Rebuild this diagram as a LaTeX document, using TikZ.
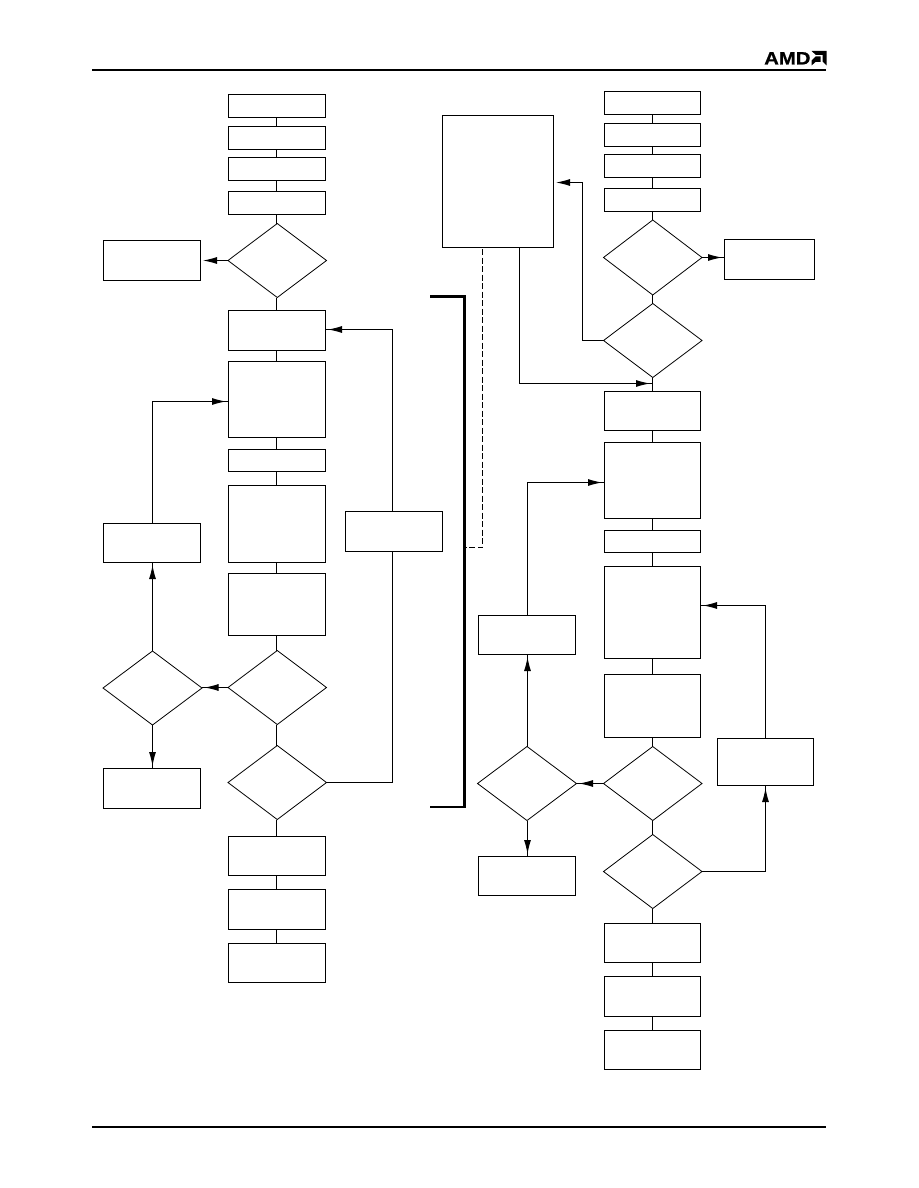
\documentclass[tikz,border=0pt]{standalone}
\usepackage{fontspec}
\setmainfont{Liberation Sans}
\usetikzlibrary{shapes.geometric,arrows.meta}
\tikzset{
  x=1pt,y=-1pt,
  flow/.style={draw=black,line width=1pt,fill=white,inner sep=0pt,outer sep=0pt,rectangle},
  deci/.style={draw=black,line width=0.8pt,fill=white,inner sep=0pt,outer sep=0pt,diamond,shape aspect=1},
  link/.style={draw=black,line width=1pt},
  headtip/.style={-{Latex[length=14pt,width=7pt]}},
  arr/.style={link,preaction={draw=black,-,shorten >=0pt},headtip,shorten >=2.5pt},
  arrgap/.style={link,headtip,shorten >=2.5pt},
  rulebar/.style={draw=black,line width=1.6pt},
  brace/.style={draw=black,line width=2.6pt,miter limit=10},
  dashlink/.style={draw=black,line width=1pt,dash pattern=on 6pt off 2.5pt}
}
% name, x1, y1, x2, y2 (pixel indices of the edge lines)
\newcommand{\bx}[5]{%
  \pgfmathsetmacro{\cxv}{(#2+#4)/2+.5}\pgfmathsetmacro{\cyv}{(#3+#5)/2+.5}%
  \pgfmathsetmacro{\wv}{#4-#2}\pgfmathsetmacro{\hv}{#5-#3}%
  \node[flow,minimum width=\wv pt,minimum height=\hv pt] (#1) at (\cxv,\cyv) {};}
\newcommand{\dm}[5]{%
  \pgfmathsetmacro{\cxv}{(#2+#4)/2}\pgfmathsetmacro{\cyv}{(#3+#5)/2}%
  \pgfmathsetmacro{\wv}{#4-#2}\pgfmathsetmacro{\hv}{#5-#3}%
  \node[deci,minimum width=\wv pt,minimum height=\hv pt] (#1) at (\cxv,\cyv) {};}
% vertical link between two nodes on a given axis
\newcommand{\vl}[3]{\draw[link] (#1.south -| #3) -- (#2.north -| #3);}
\begin{document}
\begin{tikzpicture}
\useasboundingbox (0,0) rectangle (918,1188);
\fill[white] (0,0) rectangle (918,1188);
% header / footer
\coordinate (hl) at (92,70); \coordinate (hr) at (826,70);
\coordinate (fl) at (92,1127); \coordinate (fr) at (826,1127);
\draw[rulebar] (hl) -- (hr);
\draw[rulebar] (fl) -- (fr);
\node[anchor=base west,inner sep=0pt] (amd) at (764,64.5) {\fontsize{18}{18}\selectfont\bfseries\addfontfeatures{FakeStretch=1.13,FakeBold=0.6}AMD};
\fill[black] (811.5,51) -- (826.5,51) -- (826.5,65.5) -- (822.5,61.5) -- (822.5,55) -- (816,55) -- cycle;
\fill[black] (820.5,56.5) -- (815.5,56.5) -- (811.5,60.5) -- (811.5,65.5) -- (815.5,62) -- (820.5,62) -- cycle;

\coordinate (lx) at (276.5,0);
\coordinate (lm) at (152.5,0);
\coordinate (rx) at (652.5,0);
\coordinate (rm) at (527.5,0);

% left column
\bx{a1}{228}{94}{325}{117}
\bx{a2}{228}{126}{325}{149}
\bx{a3}{228}{157}{325}{180}
\bx{a4}{228}{191}{325}{214}
\dm{a5}{228}{223.5}{326.5}{297.5}
\bx{a6}{103}{240}{200}{280}
\bx{a7}{228}{310}{325}{350}
\bx{a8}{228}{361}{325}{437}
\bx{a9}{228}{449}{325}{471}
\bx{a10}{228}{485}{325}{562}
\bx{a11}{228}{573}{325}{635}
\dm{a12}{228}{650.5}{326.5}{724.5}
\dm{a13}{228}{745.5}{326.5}{819.5}
\bx{a14}{228}{836}{325}{875}
\bx{a15}{228}{889}{325}{929}
\bx{a16}{228}{943}{325}{982}
\dm{a17}{103}{651}{202}{725}
\bx{a18}{103}{523}{200}{562}
\bx{a19}{103}{768}{200}{808}
\bx{a20}{345}{511}{442}{551}

\vl{a1}{a2}{lx}
\vl{a2}{a3}{lx}
\vl{a3}{a4}{lx}
\vl{a4}{a5}{lx}
\vl{a5}{a7}{lx}
\vl{a7}{a8}{lx}
\vl{a8}{a9}{lx}
\vl{a9}{a10}{lx}
\vl{a10}{a11}{lx}
\vl{a11}{a12}{lx}
\vl{a12}{a13}{lx}
\vl{a13}{a14}{lx}
\vl{a14}{a15}{lx}
\vl{a15}{a16}{lx}
\draw[arrgap] (a5.west) -- (a5.west -| a6.east);
\draw[arr] (a12.west) -- (a12.west -| a17.east);
\draw[arr] (a17.north -| lm) -- (a18.south -| lm);
\draw[arr] (a17.south -| lm) -- (a19.north -| lm);
\coordinate (p1) at (228.5,401.5);
\draw[arr] (a18.north -| lm) -- (p1 -| lm) -- (p1);
\coordinate (p2) at (392.5,782.5);
\coordinate (p3) at (392.5,329.5);
\coordinate (p4) at (325.5,329.5);
\draw[link] (a13.east) -- (p2) -- (a20.south -| p2);
\draw[arr] (a20.north -| p3) -- (p3) -- (p4);

% bracket and dashed link
\coordinate (b1) at (430,296.5); \coordinate (b2) at (464.5,296.5);
\coordinate (b3) at (464.5,807); \coordinate (b4) at (430,807);
\draw[brace] (b1) -- (b2) -- (b3) -- (b4);
\coordinate (q1) at (482.5,249); \coordinate (q2) at (482.5,547.5); \coordinate (q3) at (466,547.5);

% right column
\bx{c1}{604}{91}{700}{114}
\bx{c2}{604}{123}{700}{146}
\bx{c3}{604}{154}{700}{177}
\bx{c4}{604}{188}{700}{211}
\dm{c5}{603.5}{220}{702}{295}
\dm{c6}{603.5}{303.5}{702}{377.5}
\bx{c7}{724}{239}{814}{279}
\bx{c8}{442}{115}{553}{247}
\bx{c9}{604}{391}{700}{430}
\bx{c10}{604}{442}{700}{518}
\bx{c11}{604}{530}{700}{552}
\bx{c12}{604}{566}{700}{658}
\bx{c13}{604}{674}{700}{737}
\dm{c14}{603.5}{746.5}{702}{820.5}
\dm{c15}{603.5}{834.5}{702}{908.5}
\bx{c16}{604}{923}{700}{962}
\bx{c17}{604}{976}{700}{1016}
\bx{c18}{604}{1030}{700}{1069}
\dm{c19}{477.5}{746.5}{576.5}{820.5}
\bx{c20}{478}{615}{575}{654}
\bx{c21}{478}{856}{575}{895}
\bx{c22}{717}{738}{813}{785}

\vl{c1}{c2}{rx}
\vl{c2}{c3}{rx}
\vl{c3}{c4}{rx}
\vl{c4}{c5}{rx}
\vl{c5}{c6}{rx}
\vl{c6}{c9}{rx}
\vl{c9}{c10}{rx}
\vl{c10}{c11}{rx}
\vl{c11}{c12}{rx}
\vl{c12}{c13}{rx}
\vl{c13}{c14}{rx}
\vl{c14}{c15}{rx}
\vl{c15}{c16}{rx}
\vl{c16}{c17}{rx}
\vl{c17}{c18}{rx}
\draw[arr] (c5.east) -- (c5.east -| c7.west);
\coordinate (r1) at (582.5,340.5); \coordinate (r2) at (582.5,182.5); \coordinate (r3) at (553.5,182.5);
\draw[arrgap] (c6.west) -- (r1) -- (r2) -- (r3);
\coordinate (s1) at (519.5,247.5); \coordinate (s2) at (519.5,383.5); \coordinate (s3) at (652.5,383.5);
\draw[arr] (s1) -- (s2) -- (s3);
\draw[dashlink] (q1) -- (q2) -- (q3);
\draw[arr] (c14.west) -- (c14.west -| c19.east);
\draw[arr] (c19.north -| rm) -- (c20.south -| rm);
\draw[arr] (c19.south -| rm) -- (c21.north -| rm);
\coordinate (t1) at (604.5,482.5);
\draw[arr] (c20.north -| rm) -- (t1 -| rm) -- (t1);
\coordinate (u1) at (765.5,871.5); \coordinate (u2) at (765.5,785.5);
\draw[arr] (c15.east) -- (u1) -- (u2);
\coordinate (v1) at (765.5,738.5); \coordinate (v2) at (765.5,605.5); \coordinate (v3) at (700.5,605.5);
\draw[arr] (v1) -- (v2) -- (v3);
\end{tikzpicture}
\end{document}
